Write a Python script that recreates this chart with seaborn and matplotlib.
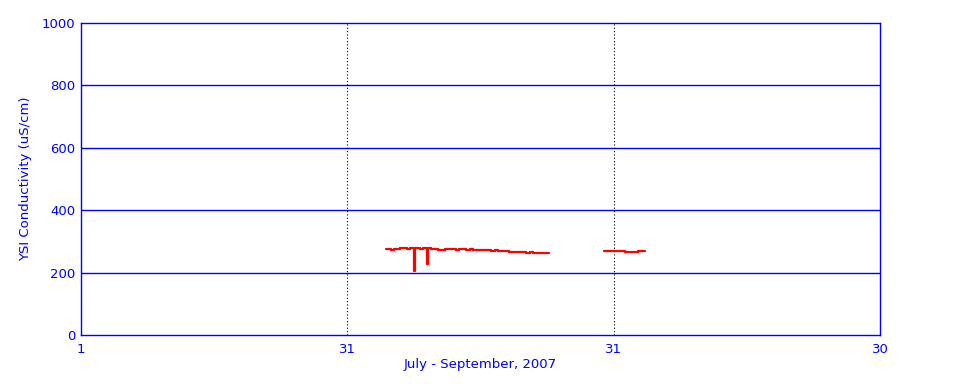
import matplotlib
matplotlib.use("Agg")
import matplotlib.pyplot as plt
import seaborn as sns
import pandas as pd
import numpy as np

# days since July 1, 2007
seg1_days = [34.7, 35.0, 35.3, 35.6, 35.9, 36.3, 36.7, 37.1, 37.5, 37.8, 37.9, 38.0,
             38.3, 38.6, 38.9, 39.3, 39.4, 39.5, 39.9, 40.3, 40.7, 41.1, 41.5, 41.9,
             42.3, 42.7, 43.1, 43.5, 43.9, 44.3, 44.7, 45.1, 45.5, 45.9, 46.3, 46.7,
             47.1, 47.5, 47.9, 48.3, 48.7, 49.1, 49.5, 49.9, 50.3, 50.7, 51.1, 51.5,
             51.9, 52.3, 52.7, 53.0, 53.3]
seg1_vals = [275, 276, 273, 276, 277, 278, 278, 277, 279, 278, 205, 279,
             280, 276, 279, 278, 226, 278, 276, 275, 273, 274, 276, 276,
             275, 273, 276, 277, 274, 275, 273, 272, 271, 272, 271, 270,
             272, 270, 268, 268, 267, 267, 266, 266, 265, 264, 265, 264,
             263, 264, 262, 263, 264]
seg2_days = [59.6, 60.2, 60.6, 61.0, 61.5, 62.0, 62.5, 62.9, 63.4, 63.8, 64.2]
seg2_vals = [268, 268, 270, 270, 268, 265, 265, 267, 268, 268, 268]

tick_labels = ["1", "31", "31", "30"]
x_max = 91
tick_pos = [0, x_max / 3, 2 * x_max / 3, x_max]

df = pd.DataFrame({
    "day": seg1_days + seg2_days,
    "cond": seg1_vals + seg2_vals,
    "seg": [1] * len(seg1_days) + [2] * len(seg2_days),
})

sns.set_style("white")
plt.rcParams["font.family"] = ["DejaVu Sans"]
blue = "#0000FF"
fs = 9.5

fig = plt.figure(figsize=(9.6, 3.84), dpi=100)
ax = fig.add_axes([81 / 960, 49 / 384, 799 / 960, 312 / 384])

for v in [200, 400, 600, 800]:
    ax.axhline(v, color=blue, lw=1, zorder=1)
for xv in tick_pos[1:3]:
    ax.axvline(xv, color="black", lw=0.8, ls=(0, (1, 2)), zorder=1)

sns.lineplot(data=df, x="day", y="cond", units="seg", estimator=None,
             color="red", lw=1.6, drawstyle="steps-post", ax=ax, zorder=3)

ax.set_xlim(0, x_max)
ax.set_ylim(0, 1000)
ax.set_xticks(tick_pos)
ax.set_xticklabels(tick_labels)
ax.set_yticks([0, 200, 400, 600, 800, 1000])
ax.tick_params(axis="both", length=0, colors=blue, labelsize=fs)
ax.tick_params(axis="x", pad=6)
ax.tick_params(axis="y", pad=4)
for s in ax.spines.values():
    s.set_color(blue)
    s.set_linewidth(1)
ax.set_xlabel("July - September, 2007", color=blue, fontsize=fs, labelpad=1)
ax.set_ylabel("YSI Conductivity (uS/cm)", color=blue, fontsize=fs, labelpad=7)

fig.savefig("out.png", dpi=100)
